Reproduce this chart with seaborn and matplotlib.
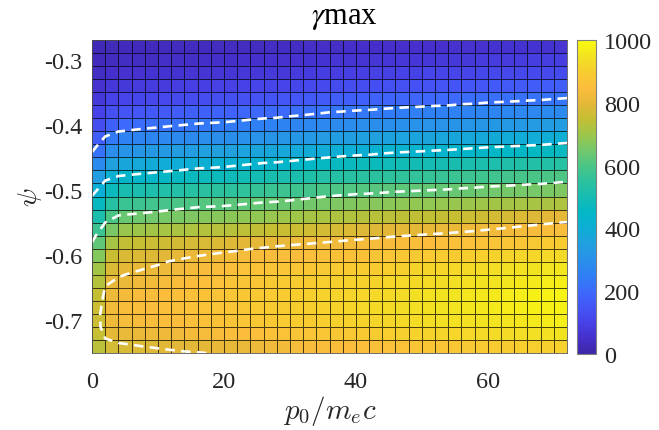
import numpy as np
import pandas as pd
import matplotlib
matplotlib.use("Agg")
import matplotlib.pyplot as plt
import seaborn as sns
from matplotlib.colors import LinearSegmentedColormap

# ---------------- data ----------------
p0_values = [0, 2, 4, 6, 8, 10, 12, 14, 16, 18, 20, 22, 24, 26, 28, 30, 32, 34, 36,
             38, 40, 42, 44, 46, 48, 50, 52, 54, 56, 58, 60, 62, 64, 66, 68, 70, 72]
psi_values = [-0.27, -0.29, -0.31, -0.33, -0.35, -0.37, -0.39, -0.41, -0.43, -0.45,
              -0.47, -0.49, -0.51, -0.53, -0.55, -0.57, -0.59, -0.61, -0.63, -0.65,
              -0.67, -0.69, -0.71, -0.73, -0.75]

# gamma_max on the grid: one row per psi value (top to bottom), one column per p0 value
gamma_rows = [
    [15, 20, 20, 21, 22, 23, 23, 24, 25, 26, 26, 27, 28, 29, 30, 31, 32, 33, 34, 34, 35, 36, 37, 37, 38, 39, 39, 40, 41, 41, 42, 43, 44, 45, 45, 46, 47],
    [20, 27, 29, 30, 31, 32, 33, 34, 35, 36, 36, 37, 39, 40, 40, 42, 43, 45, 46, 47, 48, 49, 50, 52, 53, 53, 54, 55, 56, 57, 59, 60, 61, 62, 62, 64, 65],
    [28, 38, 40, 41, 42, 44, 45, 46, 48, 49, 50, 52, 53, 55, 56, 58, 60, 62, 63, 65, 66, 67, 69, 71, 72, 74, 75, 76, 78, 80, 82, 83, 84, 86, 87, 89, 91],
    [40, 52, 55, 57, 59, 61, 62, 64, 66, 67, 69, 71, 74, 76, 78, 80, 83, 86, 88, 90, 92, 94, 97, 99, 101, 103, 105, 106, 109, 111, 114, 115, 117, 119, 121, 124, 126],
    [55, 72, 76, 79, 82, 84, 87, 90, 92, 94, 96, 99, 103, 106, 108, 112, 115, 119, 123, 125, 128, 130, 134, 138, 140, 142, 145, 147, 151, 153, 157, 160, 162, 165, 167, 171, 175],
    [76, 100, 106, 110, 114, 117, 121, 124, 128, 130, 133, 138, 142, 147, 150, 154, 159, 164, 170, 173, 177, 180, 184, 188, 191, 194, 197, 199, 204, 206, 211, 213, 216, 219, 222, 226, 230],
    [100, 135, 147, 152, 157, 162, 167, 172, 177, 180, 183, 188, 194, 199, 202, 208, 213, 219, 225, 229, 233, 236, 240, 245, 248, 250, 253, 256, 260, 263, 268, 271, 274, 277, 279, 284, 288],
    [128, 177, 199, 205, 211, 216, 222, 227, 233, 236, 239, 245, 250, 256, 259, 265, 271, 277, 282, 287, 291, 294, 298, 303, 306, 308, 311, 314, 319, 321, 326, 329, 332, 335, 337, 342, 346],
    [168, 235, 256, 262, 268, 274, 279, 285, 291, 294, 297, 303, 308, 314, 317, 323, 329, 335, 340, 345, 349, 352, 357, 361, 364, 367, 370, 373, 377, 381, 385, 388, 391, 394, 397, 402, 406],
    [222, 294, 314, 320, 326, 332, 337, 343, 349, 352, 355, 361, 367, 373, 376, 382, 388, 394, 400, 405, 409, 412, 418, 423, 426, 429, 433, 436, 441, 445, 450, 453, 457, 460, 463, 468, 474],
    [282, 353, 373, 379, 385, 391, 397, 403, 409, 412, 416, 423, 429, 436, 440, 446, 453, 460, 467, 472, 477, 480, 486, 491, 494, 497, 501, 504, 509, 513, 518, 521, 525, 528, 531, 536, 542],
    [342, 413, 436, 443, 450, 457, 463, 470, 477, 480, 484, 491, 497, 504, 508, 514, 521, 528, 535, 540, 545, 548, 553, 558, 562, 565, 568, 571, 576, 580, 585, 588, 591, 595, 598, 603, 609],
    [403, 475, 504, 511, 518, 525, 531, 538, 545, 548, 552, 558, 565, 571, 575, 581, 588, 595, 602, 607, 612, 615, 619, 624, 626, 629, 632, 635, 640, 642, 647, 650, 653, 656, 658, 663, 667],
    [462, 538, 571, 578, 584, 591, 598, 605, 612, 615, 618, 624, 629, 635, 638, 644, 650, 656, 661, 666, 670, 673, 677, 682, 684, 687, 690, 693, 698, 701, 705, 708, 711, 714, 716, 721, 725],
    [515, 600, 635, 641, 647, 653, 658, 664, 670, 673, 676, 682, 687, 693, 696, 702, 708, 714, 719, 724, 728, 731, 735, 740, 743, 745, 748, 751, 758, 763, 770, 776, 782, 788, 793, 798, 803],
    [575, 660, 693, 699, 705, 711, 716, 722, 728, 731, 734, 740, 745, 751, 754, 760, 766, 772, 777, 782, 786, 789, 793, 797, 800, 804, 808, 812, 816, 820, 825, 829, 833, 837, 841, 845, 850],
    [625, 713, 745, 752, 758, 765, 770, 774, 779, 783, 788, 793, 799, 804, 810, 815, 818, 821, 824, 827, 830, 834, 838, 842, 846, 850, 854, 858, 862, 866, 870, 874, 878, 883, 887, 891, 895],
    [668, 755, 778, 784, 789, 795, 802, 809, 816, 823, 830, 834, 838, 842, 846, 850, 853, 856, 860, 863, 866, 870, 874, 879, 883, 887, 891, 895, 899, 903, 907, 911, 915, 918, 922, 926, 930],
    [705, 785, 797, 803, 809, 815, 823, 831, 839, 847, 855, 860, 864, 869, 873, 878, 881, 884, 887, 890, 893, 897, 902, 906, 911, 915, 919, 923, 927, 931, 935, 939, 943, 947, 950, 954, 958],
    [730, 802, 812, 820, 827, 835, 842, 848, 855, 861, 868, 873, 878, 883, 888, 893, 896, 900, 903, 907, 910, 914, 919, 923, 928, 932, 936, 940, 944, 948, 952, 956, 960, 963, 967, 971, 975],
    [748, 815, 830, 836, 842, 848, 853, 859, 864, 870, 875, 880, 885, 890, 895, 900, 904, 908, 912, 916, 920, 924, 929, 933, 938, 942, 946, 950, 954, 958, 962, 966, 970, 973, 977, 981, 985],
    [758, 825, 840, 844, 848, 852, 857, 862, 867, 872, 877, 882, 887, 891, 896, 901, 905, 909, 914, 918, 922, 926, 931, 935, 940, 944, 948, 951, 955, 958, 962, 966, 969, 973, 976, 980, 983],
    [760, 822, 835, 838, 842, 845, 850, 855, 860, 865, 870, 875, 879, 884, 888, 893, 897, 901, 904, 908, 912, 917, 921, 926, 930, 935, 938, 942, 945, 949, 952, 955, 959, 962, 965, 969, 972],
    [752, 797, 806, 810, 814, 818, 823, 829, 834, 840, 845, 850, 855, 860, 865, 870, 874, 878, 882, 886, 890, 894, 899, 903, 908, 912, 916, 919, 923, 926, 930, 933, 937, 940, 943, 947, 950],
    [738, 770, 780, 783, 787, 790, 793, 796, 798, 801, 804, 810, 816, 821, 827, 833, 837, 841, 844, 848, 852, 857, 861, 866, 870, 875, 878, 882, 885, 889, 892, 895, 899, 902, 905, 909, 912],
]

x_ticks = [0, 20, 40, 60]
y_ticks = [-0.3, -0.4, -0.5, -0.6, -0.7]
y_tick_labels = ["-0.3", "-0.4", "-0.5", "-0.6", "-0.7"]
cbar_ticks = [0, 200, 400, 600, 800, 1000]
contour_levels = [200, 400, 600, 800]

# ---------------- style ----------------
parula_colors = ["#3E26A8", "#4530CC", "#4743E8", "#4456F6", "#3C6BFC", "#2F80F4",
                 "#2A90EA", "#21A0DF", "#0EAED5", "#03B7C6", "#15BCB2", "#2CC19E",
                 "#4BC586", "#73C86B", "#9DC64A", "#C4BE33", "#E6B838", "#FCBD3C",
                 "#F8CD2F", "#F2E321", "#F9FB0E"]
parula = LinearSegmentedColormap.from_list("parula", parula_colors, N=256)

sns.set_theme(style="white")
plt.rcParams["font.family"] = ["Liberation Serif", "DejaVu Serif"]
plt.rcParams["mathtext.fontset"] = "cm"
tick_color = "#262626"

W, H = 659, 431
fig = plt.figure(figsize=(W / 100, H / 100), dpi=100)
ax = fig.add_axes([92 / W, 1 - 354 / H, 475 / W, 313 / H])
cax = fig.add_axes([577 / W, 1 - 355 / H, 19 / W, 314 / H])

G = np.array(gamma_rows, dtype=float)
# each cell takes the value of its lower-left grid node (MATLAB pcolor convention)
cells = pd.DataFrame(G[1:, :-1], index=psi_values[1:], columns=p0_values[:-1])

sns.heatmap(cells, ax=ax, cbar_ax=cax, cmap=parula, vmin=0, vmax=1000,
            linewidths=0.6, linecolor=(0, 0, 0, 0.7),
            xticklabels=False, yticklabels=False,
            cbar_kws={"ticks": cbar_ticks})

# node index coordinates inside the heatmap
col_idx = np.arange(len(p0_values))
row_idx = np.arange(len(psi_values))
cs = ax.contour(col_idx, row_idx, G, levels=contour_levels, colors="white",
                linewidths=1.9)
cs.set_linestyle((0, (3.6, 2.4)))

ax.set_xlim(0, len(p0_values) - 1)
ax.set_ylim(len(psi_values) - 1, 0)

xt = np.interp(x_ticks, p0_values, col_idx)
yt = np.interp(y_ticks, psi_values[::-1], row_idx[::-1])
ax.set_xticks(xt)
ax.set_xticklabels([str(v) for v in x_ticks])
ax.set_yticks(yt)
ax.set_yticklabels(y_tick_labels, rotation=0)
ax.tick_params(axis="x", length=0, labelsize=17.5, pad=13, colors=tick_color)
ax.tick_params(axis="y", length=0, labelsize=17.5, pad=7, colors=tick_color)
for s in ax.spines.values():
    s.set_visible(True)
    s.set_color("#555555")
    s.set_linewidth(0.6)

cb = ax.collections[0].colorbar
cb.outline.set_edgecolor("#808080")
cb.outline.set_linewidth(0.8)
cax.tick_params(direction="in", length=3, width=0.6, labelsize=17.5, pad=6,
                colors=tick_color)
cax.yaxis.set_ticks_position("right")

fig.text(30 / W, 1 - 197 / H, r"$\psi$", rotation=90, ha="center", va="center",
         fontsize=20, color=tick_color)
fig.text(330 / W, 1 - 411 / H, r"$p_0/m_ec$", ha="center", va="center",
         fontsize=21, color=tick_color)
fig.text(344 / W, 1 - 18 / H, r"$\gamma$max", ha="center", va="center",
         fontsize=22, color="black", math_fontfamily="stix")

fig.savefig("out.png", dpi=100)
